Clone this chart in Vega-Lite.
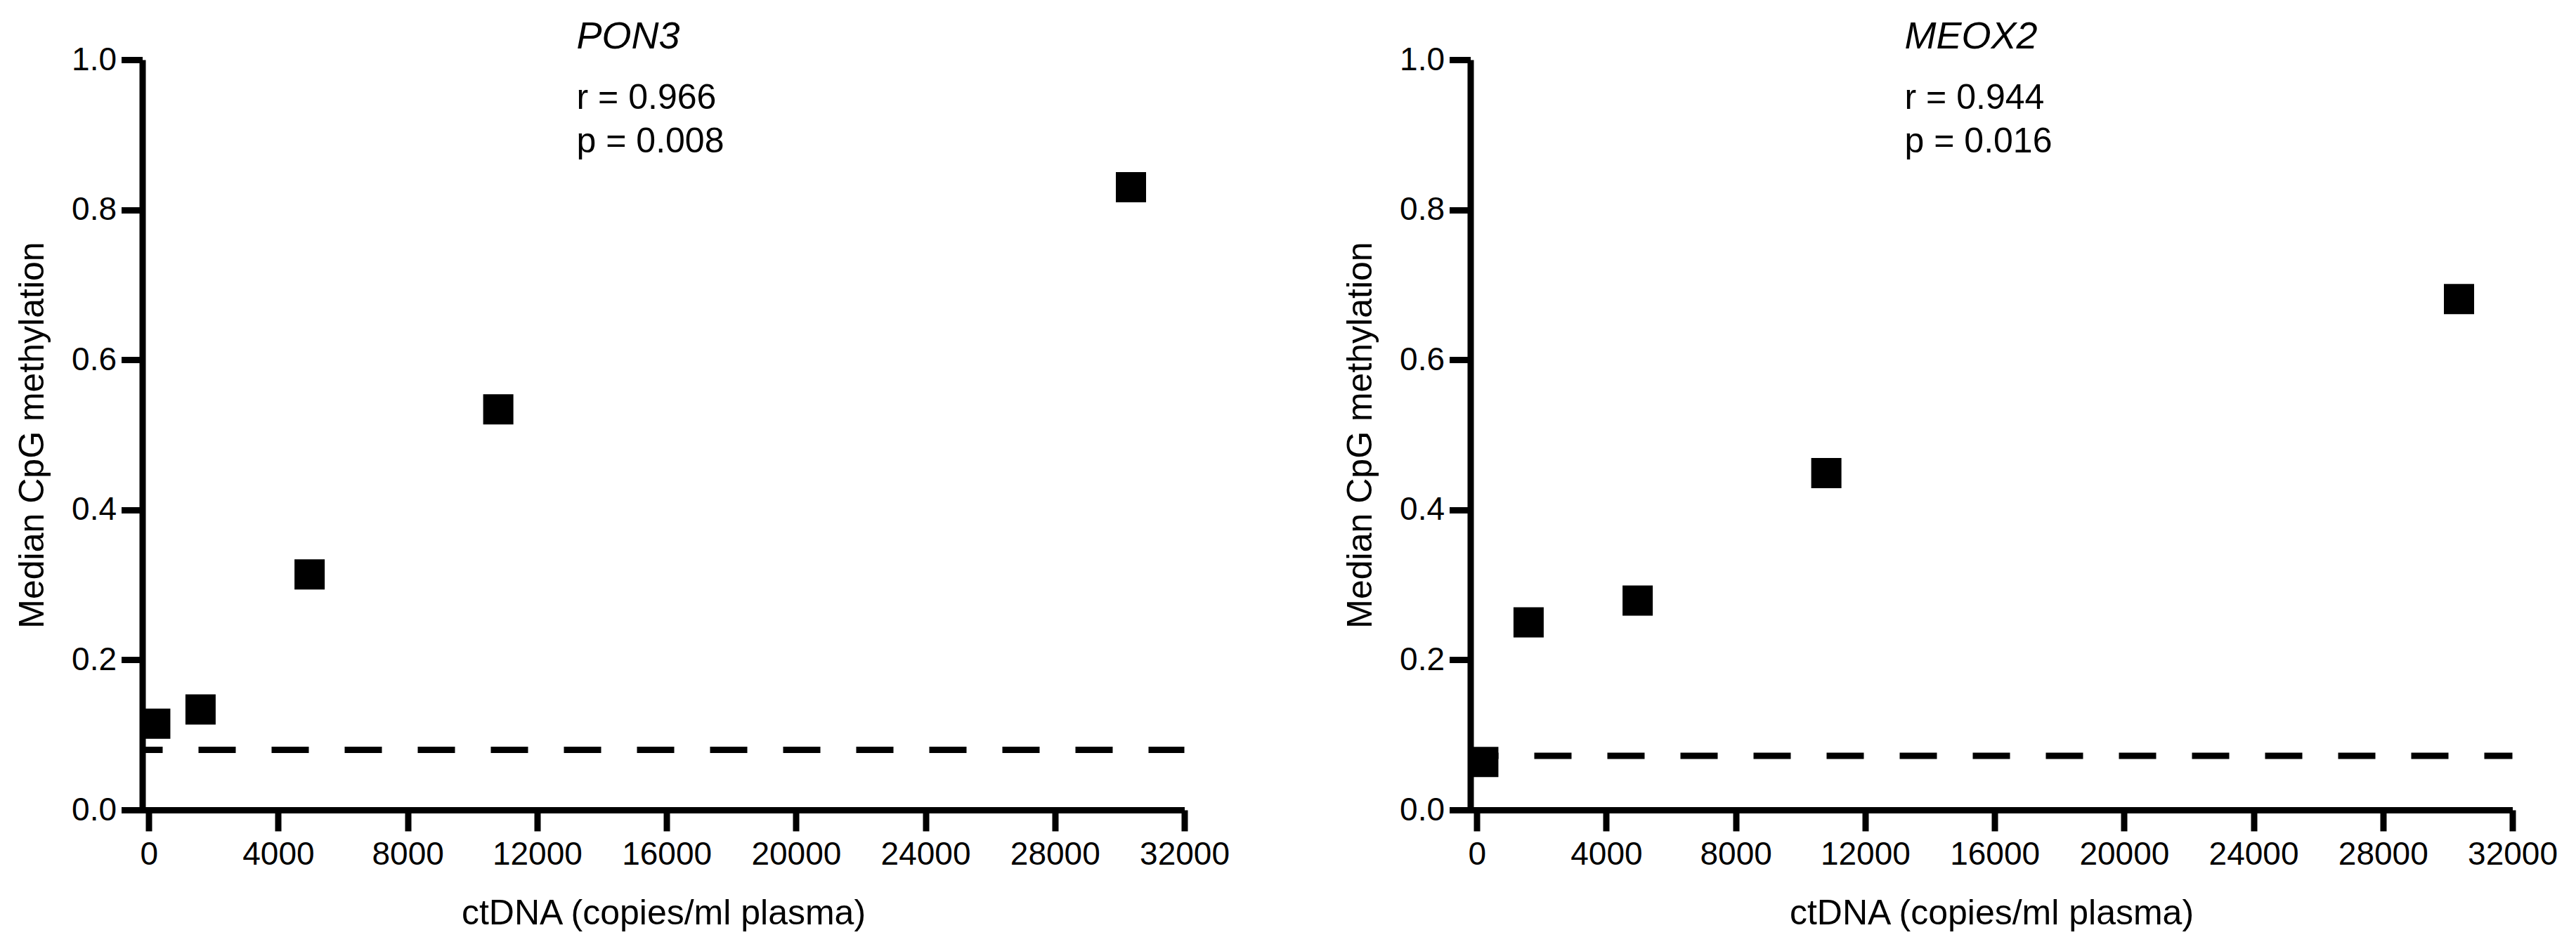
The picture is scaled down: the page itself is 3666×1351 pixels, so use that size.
{
  "$schema": "https://vega.github.io/schema/vega-lite/v6.json",
  "background": "white",
  "padding": {"left": 21.5, "top": 25, "right": 10, "bottom": 10},
  "config": {
    "view": {"stroke": null},
    "font": "Liberation Sans",
    "axis": {
      "grid": false,
      "domainColor": "black",
      "domainWidth": 9,
      "tickColor": "black",
      "tickWidth": 9,
      "tickSize": 30,
      "labelColor": "black",
      "labelFont": "Liberation Sans",
      "labelFontSize": 46,
      "titleColor": "black",
      "titleFont": "Liberation Sans",
      "titleFontSize": 50,
      "titleFontWeight": "normal"
    },
    "axisX": {"labelPadding": 11, "titlePadding": 36, "labelFlush": false},
    "axisY": {"labelPadding": 7, "titlePadding": 30}
  },
  "datasets": {
    "pon3": [
      {"ctDNA": 200, "methylation": 0.115},
      {"ctDNA": 1600, "methylation": 0.134},
      {"ctDNA": 4970, "methylation": 0.314},
      {"ctDNA": 10800, "methylation": 0.534},
      {"ctDNA": 30350, "methylation": 0.830}
    ],
    "meox2": [
      {"ctDNA": 200, "methylation": 0.064},
      {"ctDNA": 1600, "methylation": 0.250},
      {"ctDNA": 4970, "methylation": 0.279},
      {"ctDNA": 10800, "methylation": 0.449},
      {"ctDNA": 30350, "methylation": 0.681}
    ]
  },
  "bounds": "flush",
  "spacing": 407,
  "hconcat": [
    {
      "width": 1483,
      "height": 1068,
      "layer": [
        {
          "data": {"values": [{"threshold": 0.08}]},
          "mark": {"type": "rule", "color": "black", "strokeWidth": 9, "strokeDash": [53, 51], "strokeDashOffset": 24},
          "encoding": {
            "x": {"datum": -200, "type": "quantitative", "scale": {"domain": [-200, 32000], "nice": false, "zero": false}},
            "x2": {"datum": 32000},
            "y": {"field": "threshold", "type": "quantitative", "scale": {"domain": [0, 1], "nice": false}}
          }
        },
        {
          "data": {"name": "pon3"},
          "mark": {"type": "point", "shape": "square", "filled": true, "size": 1850, "color": "black", "opacity": 1},
          "encoding": {
            "x": {"field": "ctDNA", "type": "quantitative", "scale": {"domain": [-200, 32000], "nice": false, "zero": false},
                  "axis": {"title": "ctDNA (copies/ml plasma)", "values": [0, 4000, 8000, 12000, 16000, 20000, 24000, 28000, 32000], "format": "d"}},
            "y": {"field": "methylation", "type": "quantitative", "scale": {"domain": [0, 1], "nice": false},
                  "axis": {"title": "Median CpG methylation", "values": [0, 0.2, 0.4, 0.6, 0.8, 1.0], "format": ".1f"}}
          }
        },
        {
          "data": {"values": [{"gene": "PON3"}]},
          "mark": {"type": "text", "align": "left", "baseline": "alphabetic", "fontSize": 54, "fontStyle": "italic", "font": "Liberation Sans", "color": "black"},
          "encoding": {
            "x": {"datum": 13220, "type": "quantitative"},
            "y": {"datum": 1.015, "type": "quantitative"},
            "text": {"field": "gene"}
          }
        },
        {
          "data": {"values": [{"stat": "r = 0.966\np = 0.008"}]},
          "mark": {"type": "text", "align": "left", "baseline": "alphabetic", "fontSize": 50, "lineHeight": 62, "lineBreak": "\n", "font": "Liberation Sans", "color": "black"},
          "encoding": {
            "x": {"datum": 13220, "type": "quantitative"},
            "y": {"datum": 0.9345, "type": "quantitative"},
            "text": {"field": "stat"}
          }
        }
      ]
    },
    {
      "width": 1483,
      "height": 1068,
      "layer": [
        {
          "data": {"values": [{"threshold": 0.072}]},
          "mark": {"type": "rule", "color": "black", "strokeWidth": 9, "strokeDash": [53, 51], "strokeDashOffset": 13},
          "encoding": {
            "x": {"datum": -200, "type": "quantitative", "scale": {"domain": [-200, 32000], "nice": false, "zero": false}},
            "x2": {"datum": 32000},
            "y": {"field": "threshold", "type": "quantitative", "scale": {"domain": [0, 1], "nice": false}}
          }
        },
        {
          "data": {"name": "meox2"},
          "mark": {"type": "point", "shape": "square", "filled": true, "size": 1850, "color": "black", "opacity": 1},
          "encoding": {
            "x": {"field": "ctDNA", "type": "quantitative", "scale": {"domain": [-200, 32000], "nice": false, "zero": false},
                  "axis": {"title": "ctDNA (copies/ml plasma)", "values": [0, 4000, 8000, 12000, 16000, 20000, 24000, 28000, 32000], "format": "d"}},
            "y": {"field": "methylation", "type": "quantitative", "scale": {"domain": [0, 1], "nice": false},
                  "axis": {"title": "Median CpG methylation", "values": [0, 0.2, 0.4, 0.6, 0.8, 1.0], "format": ".1f"}}
          }
        },
        {
          "data": {"values": [{"gene": "MEOX2"}]},
          "mark": {"type": "text", "align": "left", "baseline": "alphabetic", "fontSize": 54, "fontStyle": "italic", "font": "Liberation Sans", "color": "black"},
          "encoding": {
            "x": {"datum": 13220, "type": "quantitative"},
            "y": {"datum": 1.015, "type": "quantitative"},
            "text": {"field": "gene"}
          }
        },
        {
          "data": {"values": [{"stat": "r = 0.944\np = 0.016"}]},
          "mark": {"type": "text", "align": "left", "baseline": "alphabetic", "fontSize": 50, "lineHeight": 62, "lineBreak": "\n", "font": "Liberation Sans", "color": "black"},
          "encoding": {
            "x": {"datum": 13220, "type": "quantitative"},
            "y": {"datum": 0.9345, "type": "quantitative"},
            "text": {"field": "stat"}
          }
        }
      ]
    }
  ]
}
